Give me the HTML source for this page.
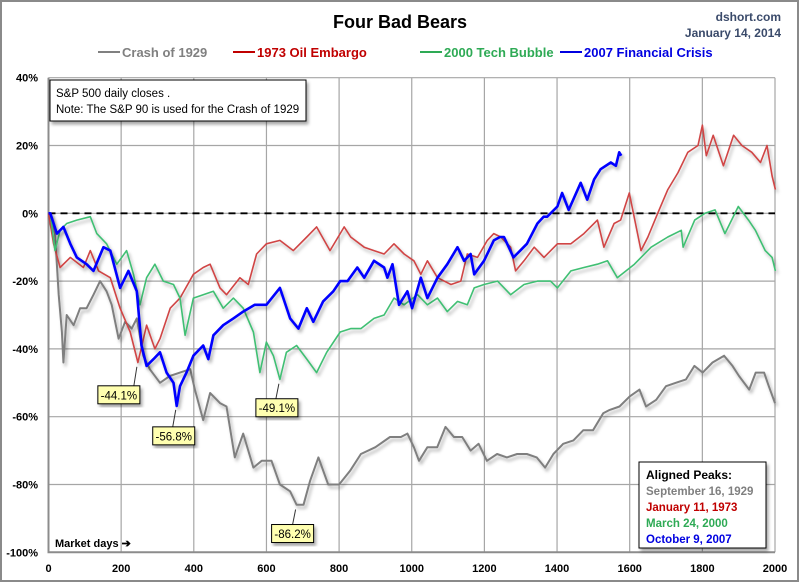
<!DOCTYPE html>
<html><head><meta charset="utf-8"><style>
body{margin:0;background:#fff;}
svg{display:block;font-family:"Liberation Sans",sans-serif;}
</style></head><body>
<svg id="chart" width="800" height="583" viewBox="0 0 800 583">
<defs>
<filter id="sh" x="-10%" y="-10%" width="130%" height="130%"><feDropShadow dx="2" dy="3" stdDeviation="1.5" flood-color="#000" flood-opacity="0.35"/></filter>
<filter id="bs" x="-5%" y="-5%" width="110%" height="110%"><feDropShadow dx="2" dy="3" stdDeviation="1.5" flood-color="#000" flood-opacity="0.3"/></filter>
</defs>
<rect x="1" y="1" width="797" height="580" fill="#fff" stroke="#8a8a8a" stroke-width="2"/>
<text x="400" y="28" text-anchor="middle" font-size="18" font-weight="bold" fill="#000">Four Bad Bears</text>
<text x="781" y="21" text-anchor="end" font-size="12" font-weight="bold" fill="#3a4a6a">dshort.com</text>
<text x="781" y="37" text-anchor="end" font-size="12" font-weight="bold" fill="#3a4a6a">January 14, 2014</text>
<g id="grid"></g>
<g id="axes"></g>
<g id="series"></g>
<g id="legend"></g>
<g filter="url(#sh)">
<rect x="50" y="80" width="256" height="41" fill="#fff" stroke="#000" stroke-width="1"/>
</g>
<text x="56" y="97" font-size="11.5" fill="#000">S&amp;P 500 daily closes .</text>
<text x="56" y="113" font-size="11.5" fill="#000">Note: The S&amp;P 90 is used for the Crash of 1929</text>
<g>
<rect x="639" y="462" width="127" height="86" fill="#fff" stroke="#000" stroke-width="1" filter="url(#sh)"/>
<text x="646" y="479" font-size="12" font-weight="bold" fill="#000">Aligned Peaks:</text>
<text x="646" y="495" font-size="11.5" font-weight="bold" fill="#808080">September 16, 1929</text>
<text x="646" y="511" font-size="11.5" font-weight="bold" fill="#c00000">January 11, 1973</text>
<text x="646" y="527" font-size="11.5" font-weight="bold" fill="#2eaa55">March 24, 2000</text>
<text x="646" y="543" font-size="11.5" font-weight="bold" fill="#0000e0">October 9, 2007</text>
</g>
<text x="55" y="547" font-size="11" font-weight="bold" fill="#000">Market days ➔</text>
<g id="callouts"></g>
</svg>
<script>
const xTicks=[0,200,400,600,800,1000,1200,1400,1600,1800,2000];
const yTicks=[40,20,0,-20,-40,-60,-80,-100];
const d1929=[0,10,18,28,37,41,50,69,87,105,124,142,160,174,193,211,229,243,261,279,307,334,362,390,403,426,445,472,490,513,536,564,587,614,637,665,683,702,720,743,770,800,830,860,900,940,970,988,1006,1020,1043,1070,1093,1116,1139,1162,1184,1207,1235,1262,1290,1317,1344,1367,1390,1417,1445,1472,1499,1527,1545,1572,1600,1627,1645,1673,1700,1727,1755,1778,1801,1828,1860,1883,1901,1929,1947,1970,1983,2000];
const v1929=[0,-2,-6,-24,-35,-44,-30,-33,-28,-28,-24,-20,-23,-27,-37,-32,-34,-31,-42,-46,-50,-48,-47,-46,-52,-61,-53,-56,-57,-72,-65,-75,-73,-73,-80,-82,-86,-86,-79,-72,-80,-80,-76,-71,-69,-66,-66,-65,-69,-73,-69,-69,-63,-66,-66,-70,-68,-73,-71,-72,-71,-71,-72,-75,-71,-68,-67,-64,-64,-59,-58,-57,-54,-52,-57,-55,-51,-50,-49,-45,-47,-44,-42,-45,-48,-52,-47,-47,-51,-56];
const d1973=[0,14,32,60,96,115,138,170,197,225,246,270,293,307,335,362,399,426,445,472,490,527,550,573,600,637,674,711,738,775,814,832,869,896,924,951,979,1006,1025,1043,1071,1108,1135,1153,1181,1208,1226,1245,1272,1286,1309,1337,1364,1401,1438,1474,1511,1529,1557,1575,1599,1631,1650,1677,1705,1733,1760,1788,1800,1811,1830,1858,1886,1909,1936,1960,1978,1992,2001];
const v1973=[0,-9,-16,-13,-16,-11,-17,-19,-28,-35,-44,-33,-40,-37,-28,-25,-18,-16,-15,-22,-24,-19,-21,-12,-9,-8,-11,-7,-4,-11,-4,-7,-10,-11,-12,-9,-12,-14,-18,-14,-19,-21,-20,-12,-13,-8,-6,-7,-10,-17,-14,-10,-13,-9,-9,-6,-2,-10,-3,-2,6,-11,-7,0,7,12,18,20,26,17,23,14,23,20,18,15,20,11,7];
const d2000=[0,5,18,32,50,78,115,133,160,188,215,234,252,270,293,316,344,362,376,399,426,454,481,509,536,564,582,600,619,637,655,683,711,738,766,803,832,860,896,924,951,979,1016,1043,1071,1098,1126,1153,1172,1199,1236,1272,1309,1346,1382,1401,1438,1474,1511,1539,1566,1613,1659,1705,1742,1747,1779,1807,1835,1862,1899,1927,1946,1973,1992,2001];
const v2000=[0,0,-11,-5,-3,-2,-1,-6,-9,-15,-11,-18,-27,-19,-15,-20,-21,-25,-36,-25,-24,-23,-28,-25,-28,-35,-47,-38,-42,-49,-41,-39,-43,-47,-41,-35,-34,-34,-31,-30,-25,-27,-24,-27,-25,-29,-26,-27,-22,-21,-20,-24,-21,-20,-20,-22,-17,-16,-15,-14,-19,-15,-10,-7,-5,-10,-2,0,1,-6,2,-2,-5,-11,-13,-17];
const d2007=[0,5,23,41,60,78,105,124,151,170,197,220,243,256,270,289,307,325,344,353,362,380,399,426,440,454,481,509,536,568,600,637,665,688,711,729,756,784,803,823,850,869,896,924,933,947,965,988,1001,1025,1043,1071,1098,1126,1144,1162,1172,1199,1226,1243,1254,1280,1317,1346,1363,1373,1401,1414,1432,1465,1483,1502,1520,1548,1562,1571,1577];
const v2007=[0,0,-6,-4,-9,-13,-15,-17,-10,-11,-22,-17,-23,-39,-45,-43,-41,-47,-50,-56.8,-51,-47,-42,-39,-43,-36,-33,-31,-29,-27,-27,-22,-31,-34,-28,-32,-26,-23,-20,-20,-16,-19,-14,-16,-19,-15,-27,-23,-28,-19,-25,-19,-15,-10,-14,-12,-18,-14,-8,-7,-7,-13,-9,-3,-1,-1,2,6,1,9,4,10,13,15,14,18,17];
const calloutLabels=["-44.1%","-56.8%","-49.1%","-86.2%"];
const calloutDays=[246,353,637,683];
const calloutVals=[-44.1,-56.8,-49.1,-86.2];

const NS="http://www.w3.org/2000/svg";
const X0=48.5,X1=775,Y0=213.3,YS=3.39;
function xs(d){return X0+(X1-X0)*d/2000;}
function ys(v){return Y0-v*YS;}
function mk(tag,attrs,parent){const e=document.createElementNS(NS,tag);for(const k in attrs)e.setAttribute(k,attrs[k]);parent.appendChild(e);return e;}
const grid=document.getElementById('grid'),axes=document.getElementById('axes'),series=document.getElementById('series'),legend=document.getElementById('legend'),callouts=document.getElementById('callouts');
xTicks.forEach(t=>{
 const l=mk('line',{x1:xs(t),x2:xs(t),y1:ys(40),y2:ys(-100),stroke:'#a6a6a6','stroke-width':1.2},grid);
 
 
 const tx=mk('text',{x:xs(t),y:572,'text-anchor':'middle','font-size':11,'font-weight':'bold',fill:'#000'},axes);
 tx.textContent=t;
 
 
});
yTicks.forEach(t=>{
 const l=mk('line',{x1:xs(0),x2:xs(2000),y1:ys(t),y2:ys(t),stroke:'#a6a6a6','stroke-width':1.2},grid);
 
 
 const tx=mk('text',{x:38,y:ys(t)+4,'text-anchor':'end','font-size':11,'font-weight':'bold',fill:'#000'},axes);
 tx.textContent=t+'%';
 
 
});
const ax=mk('path',{d:`M${xs(0)},${ys(40)}V${ys(-100)}H${xs(2000)}`,fill:'none',stroke:'#8c8c8c','stroke-width':2},axes);


const zl=mk('line',{x1:xs(0),x2:xs(2000),y1:ys(0),y2:ys(0),stroke:'#000','stroke-width':1.8,'stroke-dasharray':'7,5'},axes);


function line(days,vals,color,w,name){
 let d='';days.forEach((dd,i)=>{d+=(i?'L':'M')+xs(dd).toFixed(1)+','+ys(vals[i]).toFixed(1);});
 const p=mk('path',{d:d,fill:'none',stroke:color,'stroke-width':w,'stroke-linejoin':'round',filter:'url(#bs)'},series);
 
 
}
line(d1929,v1929,'#7f7f7f',2,'series-1929');
line(d1973,v1973,'#d04545',1.6,'series-1973');
line(d2000,v2000,'#3fbf73',1.6,'series-2000');
line(d2007,v2007,'#0000ff',2.6,'series-2007');
const legItems=[["Crash of 1929","#808080",98],["1973 Oil Embargo","#c00000",233],["2000 Tech Bubble","#2eaa55",420],["2007 Financial Crisis","#0000e0",560]];
legItems.forEach(it=>{
 const l=mk('line',{x1:it[2],x2:it[2]+22,y1:52,y2:52,stroke:it[1],'stroke-width':2},legend);
 
 
 const t=mk('text',{x:it[2]+24,y:57,'font-size':13,'font-weight':'bold',fill:it[1]},legend);
 t.textContent=it[0];
 
 
});
const boxOff=[[-40,23],[-24,21],[-24,19],[-25,19]];
calloutLabels.forEach((lab,i)=>{
 const px=xs(calloutDays[i]),py=ys(calloutVals[i]);
 const bx=px+boxOff[i][0],by=py+boxOff[i][1];
 const ln=mk('line',{x1:px-1,y1:py+4,x2:px-4,y2:by,stroke:'#333','stroke-width':1},callouts);
 
 
 const r=mk('rect',{x:bx,y:by,width:42,height:18,fill:'#ffffb0',stroke:'#000','stroke-width':1,filter:'url(#sh)'},callouts);
 
 
 const t=mk('text',{x:bx+21,y:by+13.5,'text-anchor':'middle','font-size':11.5,fill:'#000'},callouts);
 t.textContent=lab;
 
 
});
</script>
</body></html>
